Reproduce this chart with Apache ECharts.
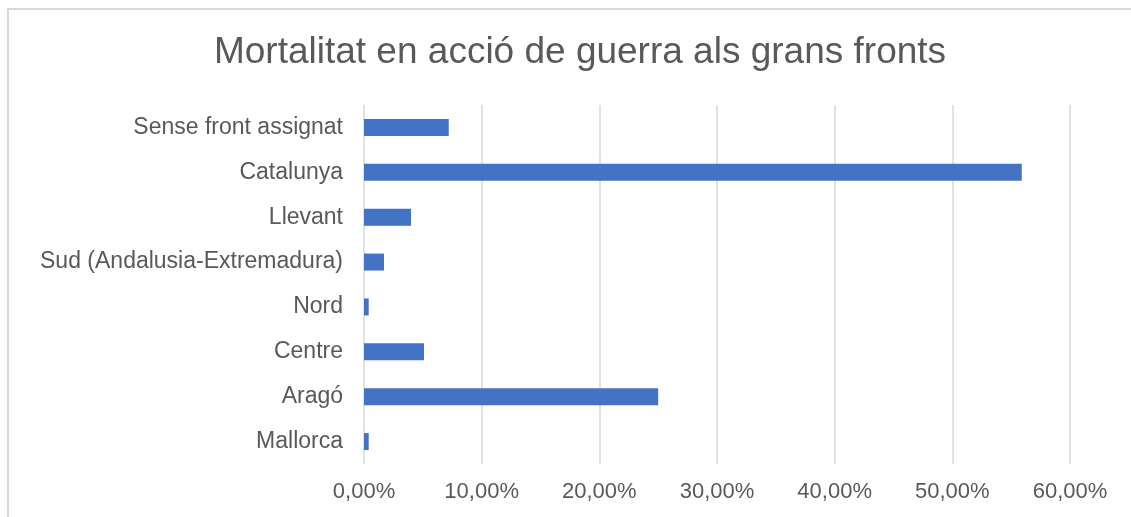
<!DOCTYPE html>
<html>
<head>
<meta charset="utf-8">
<script src="https://cdn.jsdelivr.net/npm/echarts@6/dist/echarts.min.js"></script>
<style>
  html, body { margin: 0; padding: 0; background: #fff; }
  #chart { width: 1131px; height: 517px; }
</style>
</head>
<body>
<div id="chart"></div>
<script>
// fronts, top to bottom as in the picture
var fronts = ['Sense front assignat', 'Catalunya', 'Llevant', 'Sud (Andalusia-Extremadura)', 'Nord', 'Centre', 'Aragó', 'Mallorca'];
// share of deaths in action, percent
var mortalitat = [7.2, 55.9, 4.0, 1.7, 0.4, 5.1, 25.0, 0.4];
var xTicks = [0, 10, 20, 30, 40, 50, 60];

var chart = echarts.init(document.getElementById('chart'));

chart.setOption({
    animation: false,
    // outer frame of the chart, cropped at right and bottom
    graphic: [{
        type: 'rect',
        shape: { x: 8, y: 9, width: 1140, height: 530 },
        style: { fill: 'none', stroke: '#d9d9d9', lineWidth: 2 },
        silent: true
    }],
    title: {
        text: 'Mortalitat en acció de guerra als grans fronts',
        left: 575,
        textAlign: 'center',
        top: 29,
        textStyle: {
            fontFamily: 'Liberation Sans',
            fontSize: 37,
            fontWeight: 'normal',
            color: '#595959'
        }
    },
    grid: {
        left: 364,
        right: 61,
        top: 105,
        bottom: 53
    },
    xAxis: {
        type: 'value',
        min: xTicks[0],
        max: xTicks[xTicks.length - 1],
        interval: 10,
        axisLine: { show: false },
        axisTick: { show: false },
        splitLine: { lineStyle: { color: '#d9d9d9', width: 1.5 } },
        axisLabel: {
            margin: 17,
            fontFamily: 'Liberation Sans',
            fontSize: 22,
            color: '#595959',
            formatter: function(v) {
                return v.toFixed(2).replace('.', ',') + '%';
            }
        }
    },
    yAxis: {
        type: 'category',
        inverse: true,
        data: fronts,
        axisLine: { show: false },
        axisTick: { show: false },
        axisLabel: {
            margin: 21,
            fontFamily: 'Liberation Sans',
            fontSize: 23,
            color: '#595959'
        }
    },
    series: [{
        type: 'bar',
        data: mortalitat,
        barWidth: 17,
        itemStyle: { color: '#4472c4' }
    }]
});
</script>
</body>
</html>
